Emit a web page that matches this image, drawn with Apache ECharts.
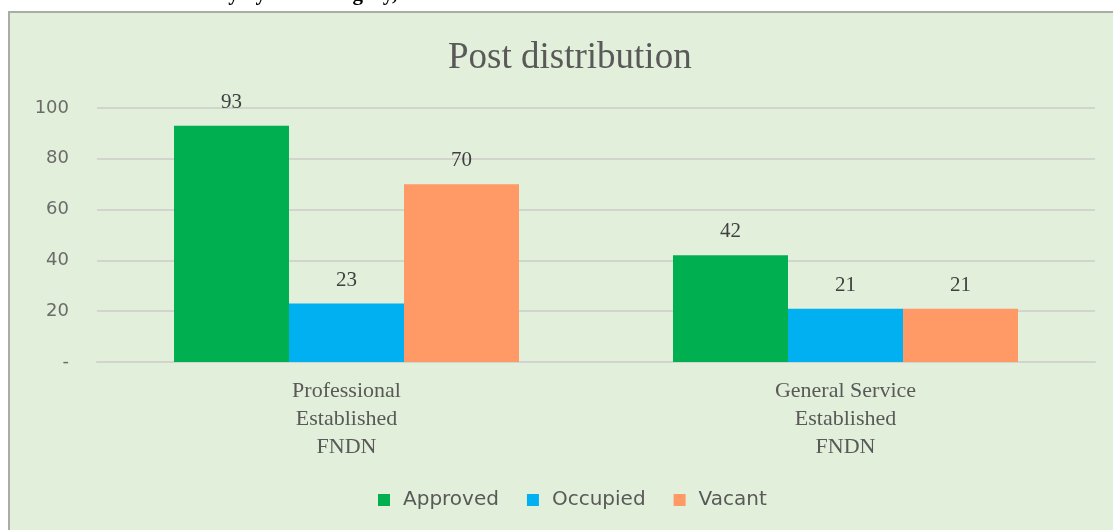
<!DOCTYPE html>
<html>
<head>
<meta charset="utf-8">
<script src="https://cdn.jsdelivr.net/npm/echarts@6/dist/echarts.min.js"></script>
<style>
html,body{margin:0;padding:0;background:#fff;}
.panel{
  position:absolute;
  left:8px;
  top:11px;
  width:1120px;
  height:540px;
  background:#e2efda;
  border-left:2px solid #a9ada6;
  border-top:2px solid #a9ada6;
}
#chart{
  position:absolute;
  left:0;
  top:0;
  width:1113px;
  height:530px;
}
</style>
</head>
<body>
<div class="panel"></div>
<div id="chart"></div>
<script>
var categories = ['Professional\nEstablished\nFNDN', 'General Service\nEstablished\nFNDN'];
var approved = [93, 42];
var occupied = [23, 21];
var vacant = [70, 21];
var yTicks = [0, 20, 40, 60, 80, 100];

var myChart = echarts.init(document.getElementById('chart'));

var serif = '"Liberation Serif", "DejaVu Serif", serif';
var sans = '"DejaVu Sans", "Noto Sans", sans-serif';

function barSeries(name, data, color) {
  return {
    name: name,
    type: 'bar',
    data: data,
    barWidth: 115,
    barGap: '0%',
    itemStyle: { color: color },
    label: {
      show: true,
      position: 'top',
      distance: 13,
      fontFamily: serif,
      fontSize: 21,
      color: '#404040'
    }
  };
}

var option = {
  backgroundColor: 'transparent',
  animation: false,
  // line of text above the chart, cut off by the page edge
  graphic: [{
    type: 'text',
    x: 150,
    y: 5,
    style: {
      text: 'Summary by staff category,',
      font: 'bold 21px "Liberation Serif", serif',
      verticalAlign: 'bottom',
      fill: '#000'
    }
  }],
  title: {
    text: 'Post distribution',
    left: 443,
    top: 35,
    textStyle: {
      fontFamily: serif,
      fontSize: 37,
      fontWeight: 'normal',
      color: '#595959'
    }
  },
  legend: {
    data: ['Approved', 'Occupied', 'Vacant'],
    top: 485,
    left: 373,
    icon: 'rect',
    itemWidth: 12,
    itemHeight: 12,
    itemGap: 28,
    textStyle: {
      fontFamily: sans,
      fontSize: 20,
      color: '#595959',
      padding: [0, 0, 0, 8]
    }
  },
  grid: {
    left: 97,
    right: 18,
    top: 108,
    bottom: 168
  },
  xAxis: {
    type: 'category',
    data: categories,
    axisLine: { lineStyle: { color: '#d2d5ce', width: 2 } },
    axisTick: { show: false },
    axisLabel: {
      margin: 15,
      lineHeight: 28,
      fontFamily: serif,
      fontSize: 22,
      color: '#595959'
    }
  },
  yAxis: {
    type: 'value',
    min: yTicks[0],
    max: yTicks[yTicks.length - 1],
    interval: 20,
    axisLine: { show: false },
    axisTick: { show: false },
    splitLine: { lineStyle: { color: '#d2d5ce', width: 2 } },
    axisLabel: {
      margin: 28,
      fontFamily: sans,
      fontSize: 18,
      color: '#6b6b6b',
      formatter: function (v) { return v === 0 ? '-' : v; }
    }
  },
  series: [
    barSeries('Approved', approved, '#00b050'),
    barSeries('Occupied', occupied, '#00b0f0'),
    barSeries('Vacant', vacant, '#ff9966')
  ]
};

myChart.setOption(option);
</script>
</body>
</html>
